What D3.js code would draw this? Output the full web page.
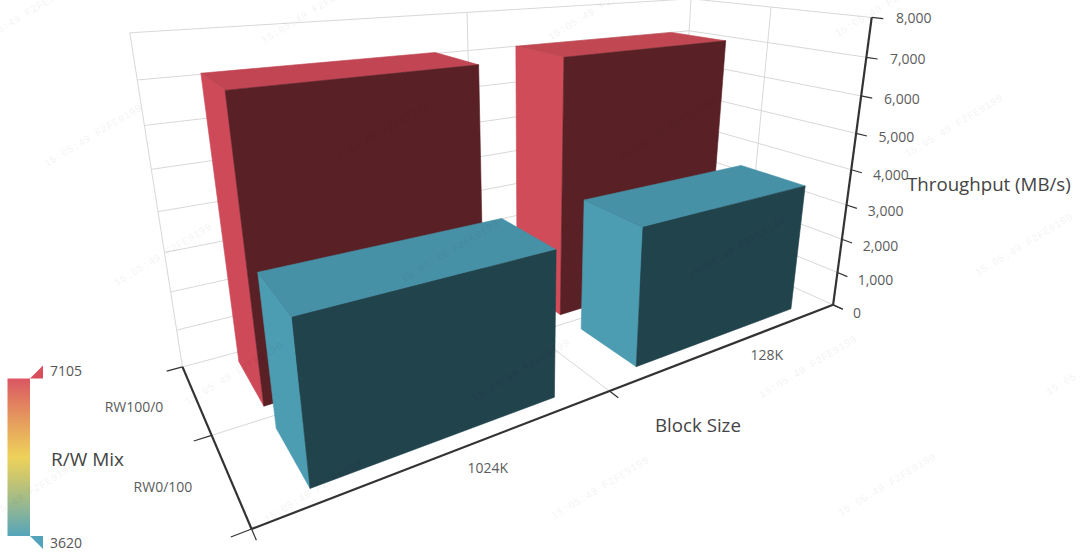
<!DOCTYPE html>
<html><head><meta charset="utf-8">
<script src="https://cdn.jsdelivr.net/npm/d3@7/dist/d3.min.js"></script>
<style>html,body{margin:0;padding:0;background:#fff}svg{display:block}text{font-family:"Open Sans","Noto Sans",sans-serif}</style>
</head><body><svg id="c" width="1080" height="553"></svg>
<script>
// ---- data ----
const blockSizes = ["1024K", "128K"];
const rwMixes = ["RW0/100", "RW100/0"];          // front to back
const throughput1024K = [3620, 7105];
const throughput128K = [3625, 7080];
const zTicks = [0,1000,2000,3000,4000,5000,6000,7000,8000];
const legendRange = [3620, 7105];
const legendColors = ["#50a3ba", "#eac736", "#d94e5d"];
const legendStopAlpha = [.98, .82, .96];
const watermarkText = "15:05:49  F2FE9199";

// ---- camera: normalised box (x,y,z in 0..1) -> screen, calibrated from the picture ----
const calib = [
 [0,0,0,250,527],[1,0,0,833,306],[0,1,0,183,368],[1,1,0,676,233],
 [0,1,1,130,32],[1,1,1,690,-1],[1,0,1,870,17],
 [.5,0,0,610,390],[0,.5,0,212,437],[1,0,.875,866.7,57.5],[1,0,.625,857,134],
 [.5,1,1,467,12.7],[1,.5,1,773,7]
];
function solveCamera(pts){
  const A=[],b=[];
  pts.forEach(([X,Y,Z,u,v])=>{
    A.push([X,Y,Z,1,0,0,0,0,-u*X,-u*Y,-u*Z]);b.push(u);
    A.push([0,0,0,0,X,Y,Z,1,-v*X,-v*Y,-v*Z]);b.push(v);
  });
  const n=11,N=d3.range(n).map(i=>d3.range(n+1).map(j=>
    j<n?d3.sum(A,r=>r[i]*r[j]):d3.sum(A,(r,k)=>r[i]*b[k])));
  for(let i=0;i<n;i++){
    let m=i;for(let k=i+1;k<n;k++)if(Math.abs(N[k][i])>Math.abs(N[m][i]))m=k;
    [N[i],N[m]]=[N[m],N[i]];
    for(let k=0;k<n;k++)if(k!==i){const f=N[k][i]/N[i][i];for(let j=i;j<=n;j++)N[k][j]-=f*N[i][j];}
  }
  return d3.range(n).map(i=>N[i][n]/N[i][i]);
}
const P=solveCamera(calib);
const proj=(x,y,z)=>{const w=P[8]*x+P[9]*y+P[10]*z+1;
  return [(P[0]*x+P[1]*y+P[2]*z+P[3])/w,(P[4]*x+P[5]*y+P[6]*z+P[7])/w];};

const xS=d3.scaleBand().domain(blockSizes).range([0,1]).paddingInner(.3).paddingOuter(.15);
const yS=d3.scaleBand().domain(rwMixes).range([0,1]).paddingInner(.3).paddingOuter(.15);
const zS=d3.scaleLinear().domain([0,8000]).range([0,1]);
const colorS=d3.scaleLinear().domain([legendRange[0],d3.mean(legendRange),legendRange[1]]).range(legendColors).clamp(true);

const svg=d3.select("#c");
const line=d3.line();
// ---- grid ----
const grid=[];
zTicks.forEach(t=>{const z=zS(t);
  grid.push([proj(0,1,z),proj(1,1,z)]);grid.push([proj(1,1,z),proj(1,0,z)]);});
[0,1].forEach(t=>{grid.push([proj(t,1,0),proj(t,1,1)]);});
grid.push([proj(.5,1,0),proj(.5,1,1)]);
grid.push([proj(1,.5,0),proj(1,.5,1)]);
grid.push([proj(.5,0,0),proj(.5,1,0)]);
grid.push([proj(0,.5,0),proj(1,.5,0)]);
svg.append("g").selectAll("path").data(grid).join("path").attr("d",line)
  .attr("fill","none").attr("stroke","#d8d8d8").attr("stroke-width",1);

// ---- bars ----
const bars=[];
rwMixes.slice().reverse().forEach(r=>{
  const ri=rwMixes.indexOf(r);
  blockSizes.slice().reverse().forEach(b=>{
    const v=(b==="1024K"?throughput1024K:throughput128K)[ri];
    bars.push({b,r,v});
  });
});
const shade=(c,f)=>{const k=d3.rgb(c);return d3.rgb(k.r*f,k.g*f,k.b*f).formatHex();};
const faces=bars.flatMap(d=>{
  const x0=xS(d.b),x1=x0+xS.bandwidth(),y0=yS(d.r),y1=y0+yS.bandwidth(),z=zS(d.v),c=colorS(d.v);
  return [
   {pts:[proj(x0,y1,0),proj(x0,y0,0),proj(x0,y0,z),proj(x0,y1,z)],fill:shade(c,.955)},
   {pts:[proj(x0,y1,z),proj(x0,y0,z),proj(x1,y0,z),proj(x1,y1,z)],fill:shade(c,.89)},
   {pts:[proj(x0,y0,0),proj(x1,y0,0),proj(x1,y0,z),proj(x0,y0,z)],fill:shade(c,.41)}
  ];
});
svg.append("g").selectAll("path").data(faces).join("path")
  .attr("d",d=>line(d.pts)+"Z").attr("fill",d=>d.fill).attr("stroke",d=>d.fill).attr("stroke-width",.6);

// ---- axes ----
const axisG=svg.append("g").attr("fill","none").attr("stroke","#333");
const axes=[[proj(0,1,0),proj(0,0,0)],[proj(0,0,0),proj(1,0,0)],[proj(1,0,0),proj(1,0,1)]];
axisG.selectAll("path.a").data(axes).join("path").attr("class","a").attr("d",line).attr("stroke-width",2.2);
const ticks=[];
[0,.5,1].forEach(t=>{ticks.push([proj(t,0,0),proj(t,-.05,0)]);ticks.push([proj(0,t,0),proj(-.022,t,0)]);});
zTicks.forEach(t=>ticks.push([proj(1,0,zS(t)),proj(1,-.05,zS(t))]));
axisG.selectAll("path.t").data(ticks).join("path").attr("class","t").attr("d",line).attr("stroke-width",1.2);

const label=(g,x,y,s,size,fill,anchor)=>g.append("text").attr("x",x).attr("y",y).text(s)
  .attr("font-size",size).attr("fill",fill).attr("text-anchor",anchor||"middle").attr("dominant-baseline","central");
const lab=svg.append("g");
zTicks.forEach(t=>{const p=proj(1,-.12,zS(t));label(lab,p[0]-4,p[1]-3,d3.format(",")(t),14,"#5c5c5c","start");});
const xLabelDy=[16,11], yLabelDx=[-67,-62];
blockSizes.forEach((b,i)=>{const p=proj(xS(b)+xS.bandwidth()/2,0,0);label(lab,p[0]+34,p[1]+xLabelDy[i],b,14,"#5c5c5c");});
rwMixes.forEach((r,i)=>{const p=proj(0,yS(r)+yS.bandwidth()/2,0);label(lab,p[0]+yLabelDx[i],p[1]+8,r,14,"#5c5c5c");});
label(lab,907,183,"Throughput (MB/s)",18.7,"#444","start");
label(lab,655,424,"Block Size",18.7,"#444","start");

// ---- legend ----
const defs=svg.append("defs");
const gr=defs.append("linearGradient").attr("id","lg").attr("x1",0).attr("x2",0).attr("y1",1).attr("y2",0);
legendColors.forEach((c,i)=>gr.append("stop").attr("offset",i/2).attr("stop-color",c).attr("stop-opacity",legendStopAlpha[i]));
const legY=d3.scaleLinear().domain(legendRange).range([536,378.5]);
svg.append("rect").attr("x",7.5).attr("width",22.5).attr("y",legY(legendRange[1])).attr("height",legY(legendRange[0])-legY(legendRange[1])).attr("fill","url(#lg)");
legendRange.forEach((v,i)=>{
  const y=legY(v),d=i?-13:13;
  svg.append("path").attr("d",line([[30,y],[43,y+d],[43,y]])+"Z").attr("fill",colorS(v));
  label(lab,50,y+(i?-8:6),String(v),14,"#555","start");
});
label(lab,51,459,"R/W Mix",19,"#444","start");

// ---- watermark ----
const wmRowX=[-6,64,134,205,-3];
const wmRowY=[32,152,271,390,511];
const wm=svg.append("g").attr("fill","#000").attr("fill-opacity",.055);
wmRowX.forEach((x0,i)=>{
  d3.range(4).forEach(c=>{
    const cx=x0+c*287+29, cy=wmRowY[i]-c*3.3-16;
    wm.append("text").attr("transform",`translate(${cx},${cy}) rotate(-31)`).attr("text-anchor","middle")
      .attr("dominant-baseline","central").attr("font-size",11).attr("font-weight","bold")
      .style("font-family","'Liberation Mono',monospace").text(watermarkText);
  });
});
</script></body></html>
